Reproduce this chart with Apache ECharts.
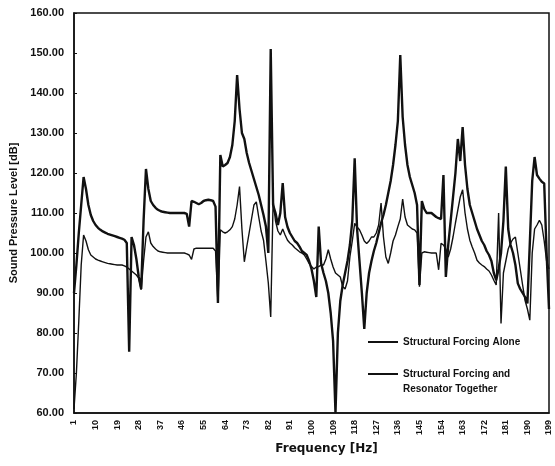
<!DOCTYPE html>
<html>
<head>
<meta charset="utf-8">
<script src="https://cdn.jsdelivr.net/npm/echarts@6/dist/echarts.min.js"></script>
<style>
  html, body { margin: 0; padding: 0; background: #fff; }
  #chart { width: 555px; height: 466px; }
</style>
</head>
<body>
<div id="chart"></div>
<script>
// frequencies 1..199 Hz, one sample per Hz
var frequencies = [];
for (let f = 1; f <= 199; f++) {
  frequencies.push(String(f));
}

var seriesNames = ['Structural Forcing Alone', 'Structural Forcing and Resonator Together'];

// dB
var forcingAlone = [
  90, 97, 105, 112, 119, 116, 112, 109.5, 108, 107,
  106.3, 105.8, 105.4, 105.1, 104.8, 104.6, 104.4, 104.2, 104, 103.8,
  103.6, 103.3, 102.5, 75.3, 104, 102, 98.5, 94, 91, 108,
  121, 116, 113, 112, 111.3, 110.8, 110.5, 110.3, 110.2, 110.1,
  110, 110, 110, 110, 110, 110, 110, 109.8, 106.6, 113,
  112.8, 112.5, 112.2, 112.5, 113, 113.2, 113.3, 113.2, 113, 111.6,
  87.5, 124.5, 121.6, 122, 122.5, 124, 127, 133, 144.5, 136,
  130, 128.5, 125, 122.5, 120.5, 118.5, 116.5, 114.5, 112, 109.5,
  106.6, 100, 151, 112, 110, 107, 110, 117.5, 109, 106.5,
  105, 104, 103, 102.5, 101.6, 100.5, 100, 99.5, 98, 96,
  93, 89, 106.6, 97.4, 95, 93, 90, 85, 78, 60,
  80, 88, 92, 95, 98, 102, 108, 123.7, 106, 98,
  90, 81, 90, 95, 98, 100.5, 102.5, 105, 107.5, 109.5,
  112, 115, 118, 122, 127, 133, 149.5, 134, 127, 122,
  119, 117, 115, 112, 92, 113, 111, 110, 110, 110,
  109.5, 109, 108.7, 108.5, 119.5, 94, 102, 108, 114, 120,
  128.5, 123, 131.5, 122, 116, 112, 110, 108, 106, 104.5,
  103, 102, 100.5, 99.5, 98, 95, 93.2, 96, 100, 108,
  121.6, 106, 102, 100, 97, 92.4, 91, 90, 89, 87.4,
  102.4, 118, 124, 119.5, 118.6, 117.8, 117.4, 100, 86
];

var withResonator = [
  61, 70, 83, 97, 104.5, 103, 100.8, 99.5, 99, 98.5,
  98.2, 98, 97.8, 97.6, 97.4, 97.3, 97.2, 97.1, 97, 97,
  97, 96.8, 96.5, 96, 95.5, 95, 94.5, 93.7, 90.8, 98,
  104, 105.3, 102.5, 101.6, 101, 100.5, 100.3, 100.2, 100.1, 100,
  100, 100, 100, 100, 100, 100, 100, 99.8, 99.5, 98.4,
  101, 101.2, 101.2, 101.2, 101.2, 101.2, 101.2, 101.2, 101.2, 100.5,
  87.5, 105.8, 105.3, 105, 105.3, 105.8, 106.6, 108.5, 112, 116.6,
  106, 97.8, 101.5, 105, 108.5, 112, 112.8, 109, 105.5, 103.2,
  98, 92.5, 84, 113, 108, 105.5, 104.5, 106, 104.5, 103.2,
  102.5, 102, 101.3, 100.8, 100.3, 100, 99.5, 98.5, 97.4, 96.6,
  96, 96.5, 96.6, 97, 97, 98.5, 100.8, 98.5, 96.5, 95,
  94.5, 94, 91.6, 91, 93, 99, 103, 107.4, 106.5, 105.8,
  104.5, 103, 102.4, 103, 104, 104, 105, 107, 112.5, 104,
  99, 97.4, 100, 103, 104.5, 106.6, 108.5, 113.5, 109, 107,
  106.5, 106, 105.8, 105, 91.6, 100, 100.3, 100.2, 100.1, 100,
  100, 100, 95.8, 102.4, 102, 101, 99, 101, 104, 107.5,
  110.8, 114, 115.8, 110, 106, 103.2, 101.5, 100, 98.2, 97.5,
  97, 96.6, 96, 95.5, 94.5, 93.2, 92, 110, 82.4, 95,
  98, 101, 102.5, 103.5, 104, 100, 96, 92, 88.2, 86,
  83.2, 100, 106, 107, 108.2, 107, 103, 98, 96
];

var yMin = 60;
var yMax = 160;
var yStep = 10;

var chart = echarts.init(document.getElementById('chart'), null, {renderer: 'canvas'});

var boldFont = 'Liberation Sans, Arial, sans-serif';

let opts = {
  backgroundColor: '#fff',
  animation: false,
  grid: {
    left: 74,
    right: 6,
    top: 13,
    bottom: 53,
    show: true,
    borderColor: '#111',
    borderWidth: 1.5,
    outerBoundsMode: 'none'
  },
  legend: {
    orient: 'vertical',
    left: 368,
    top: 337,
    padding: 0,
    icon: 'rect',
    itemWidth: 30,
    itemHeight: 2,
    itemGap: 22,
    data: seriesNames,
    formatter: (name) => {
      // second line of this label is drawn below as its own text
      if (name === seriesNames[1]) {
        return 'Structural Forcing and';
      }
      return name;
    },
    textStyle: {
      fontFamily: boldFont,
      fontWeight: 'bold',
      fontSize: 10,
      color: '#111'
    }
  },
  graphic: [
    {
      type: 'text',
      left: 403,
      top: 384,
      style: {
        text: 'Resonator Together',
        fontFamily: boldFont,
        fontWeight: 'bold',
        fontSize: 10,
        fill: '#111'
      }
    }
  ],
  xAxis: {
    type: 'category',
    data: frequencies,
    boundaryGap: false,
    name: 'Frequency [Hz]',
    nameLocation: 'middle',
    nameGap: 28,
    nameTextStyle: {
      fontFamily: 'DejaVu Sans, sans-serif',
      fontWeight: 'bold',
      fontSize: 12,
      color: '#111',
      padding: [0, 0, 0, 30]
    },
    axisLine: {lineStyle: {color: '#111', width: 1.5}},
    axisTick: {show: false},
    axisLabel: {
      interval: 8,
      rotate: 90,
      margin: 7,
      fontFamily: boldFont,
      fontWeight: 'bold',
      fontSize: 9,
      color: '#111'
    },
    splitLine: {show: false}
  },
  yAxis: {
    type: 'value',
    min: yMin,
    max: yMax,
    interval: yStep,
    name: 'Sound Pressure Level [dB]',
    nameLocation: 'middle',
    nameGap: 53,
    nameTextStyle: {
      fontFamily: boldFont,
      fontWeight: 'bold',
      fontSize: 11,
      color: '#111'
    },
    axisLine: {show: true, lineStyle: {color: '#111', width: 1.5}},
    axisTick: {show: true, inside: true, length: 3, lineStyle: {color: '#111'}},
    axisLabel: {
      margin: 10,
      fontFamily: boldFont,
      fontWeight: 'bold',
      fontSize: 11,
      color: '#111',
      formatter: (value) => value.toFixed(2)
    },
    splitLine: {show: false}
  },
  series: [
    {
      name: seriesNames[0],
      type: 'line',
      data: forcingAlone,
      symbol: 'none',
      lineStyle: {color: '#111', width: 2.4},
      itemStyle: {color: '#111'},
      z: 3
    },
    {
      name: seriesNames[1],
      type: 'line',
      data: withResonator,
      symbol: 'none',
      lineStyle: {color: '#111', width: 1.4},
      itemStyle: {color: '#111'},
      z: 2
    }
  ]
};

chart.setOption(opts);
</script>
</body>
</html>
